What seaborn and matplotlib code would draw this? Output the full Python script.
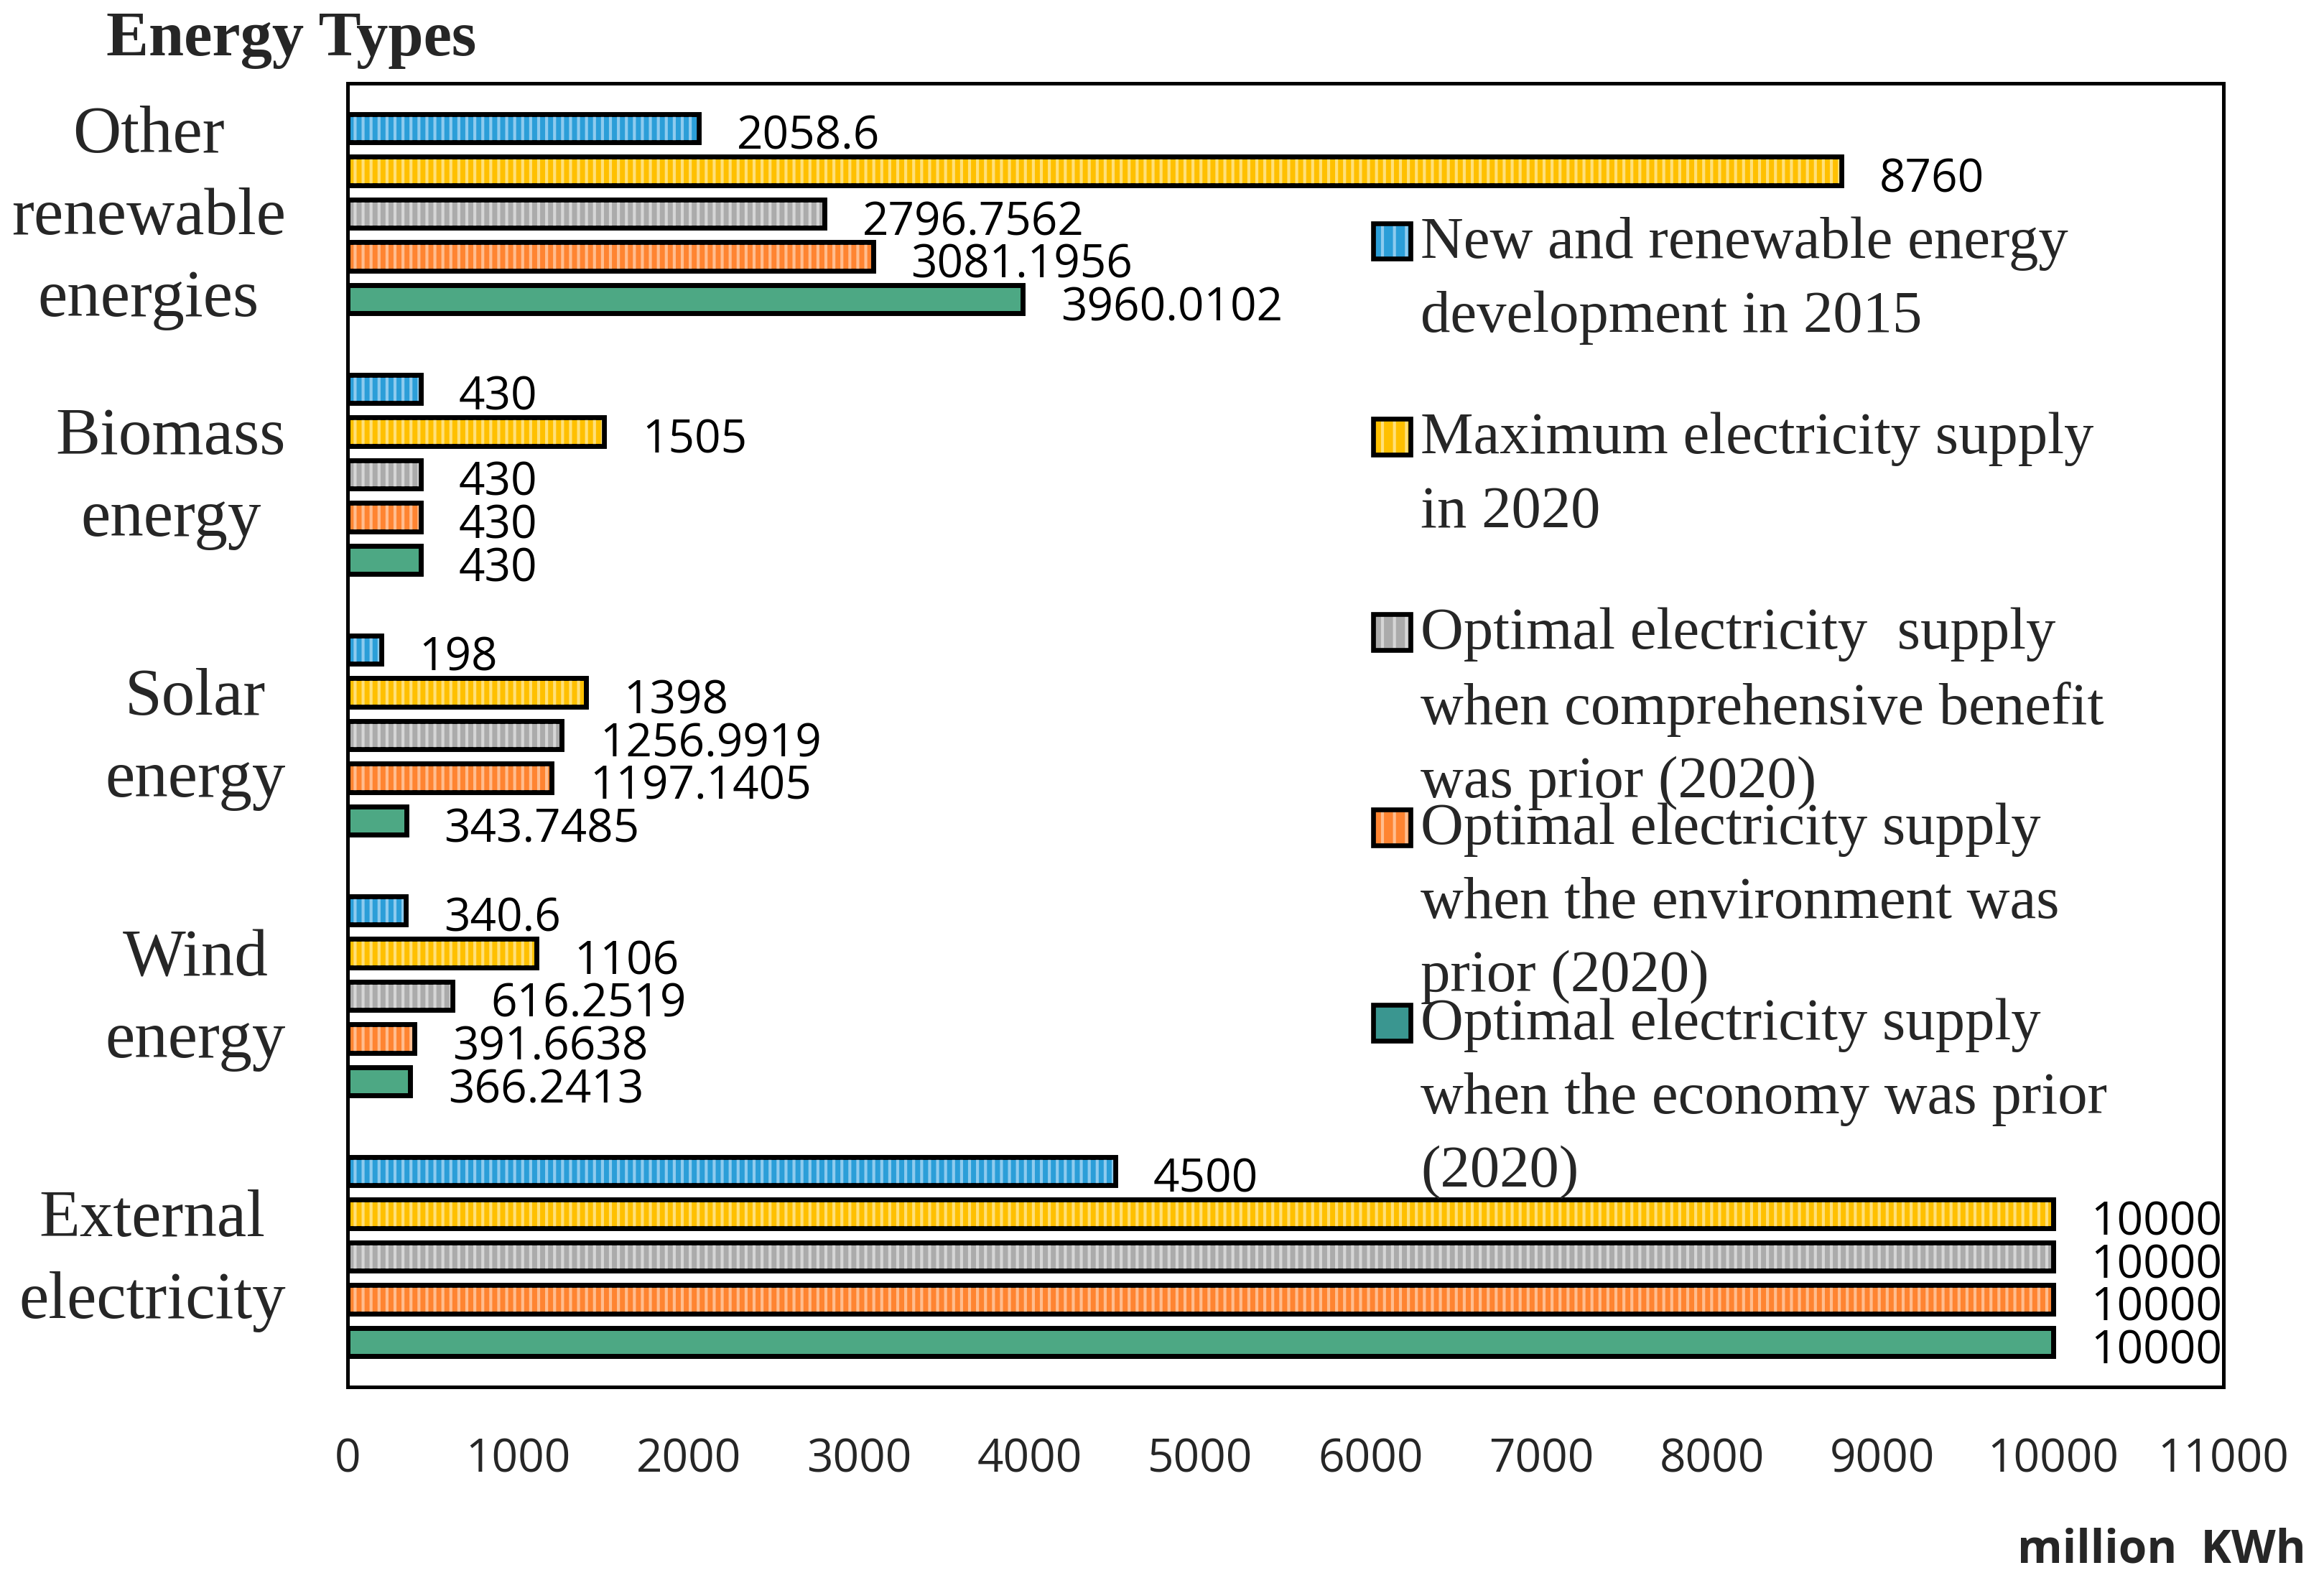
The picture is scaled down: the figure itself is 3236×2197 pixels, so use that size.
import matplotlib
matplotlib.use('Agg')
import pandas as pd
import matplotlib.pyplot as plt
from matplotlib.patches import Rectangle
from matplotlib.transforms import ScaledTranslation
import seaborn as sns

# Chart data
categories = ['Other\nrenewable\nenergies', 'Biomass\nenergy', 'Solar\nenergy',
              'Wind\nenergy', 'External\nelectricity']
series_labels = [
    'New and renewable energy\ndevelopment in 2015',
    'Maximum electricity supply\nin 2020',
    'Optimal electricity  supply\nwhen comprehensive benefit\nwas prior (2020)',
    'Optimal electricity supply\nwhen the environment was\nprior (2020)',
    'Optimal electricity supply\nwhen the economy was prior\n(2020)',
]
dev_2015 = [2058.6, 430, 198, 340.6, 4500]
max_2020 = [8760, 1505, 1398, 1106, 10000]
opt_benefit = [2796.7562, 430, 1256.9919, 616.2519, 10000]
opt_environment = [3081.1956, 430, 1197.1405, 391.6638, 10000]
opt_economy = [3960.0102, 430, 343.7485, 366.2413, 10000]
x_ticks = list(range(0, 11001, 1000))

series_values = [dev_2015, max_2020, opt_benefit, opt_environment, opt_economy]

# Colours: bar face, light stripe, legend swatch
bar_colors = ['#2B9ED8', '#FFC000', '#ABABAB', '#FF8431', '#4DA884']
stripe_colors = ['#8ECBEE', '#FFE07A', '#D6D6D6', '#FFBD8F', None]
swatch_colors = ['#2B9ED8', '#FFC000', '#ABABAB', '#FF8431', '#3A9690']

# long-form table for seaborn
rows = []
for label, vals in zip(series_labels, series_values):
    for cat, v in zip(categories, vals):
        rows.append({'category': cat, 'value': v, 'series': label})
df = pd.DataFrame(rows)

sns.set_theme(style='white')
plt.rcParams['font.family'] = ['Liberation Serif', 'DejaVu Serif']
plt.rcParams['hatch.linewidth'] = 1.5

fig = plt.figure(figsize=(16.18, 10.985), dpi=200)
ax = fig.add_axes([484 / 3236, 1 - 1931 / 2197, (3096 - 484) / 3236, (1931 - 116) / 2197])

sns.barplot(data=df, x='value', y='category', hue='series', order=categories,
            hue_order=series_labels, palette=bar_colors, orient='h', width=0.82,
            gap=0.34, saturation=1, edgecolor='black', linewidth=2.4,
            errorbar=None, legend=False, ax=ax)

edge_lw = 2.4
# vertical stripes on the bars, then redraw the black outline on top
for cont, stripe in zip(ax.containers, stripe_colors):
    for bar in cont:
        xy, w, h = bar.get_xy(), bar.get_width(), bar.get_height()
        if stripe:
            ax.add_patch(Rectangle(xy, w, h, facecolor='none', edgecolor=stripe,
                                   lw=0, hatch='|||', zorder=1.1))
        ax.add_patch(Rectangle(xy, w, h, facecolor='none', edgecolor='black',
                               lw=edge_lw, zorder=1.2))
    anns = ax.bar_label(cont, fmt=lambda v: f'{v:.10g}', padding=19, fontsize=23,
                        family='Open Sans', color='black')
    for a in anns:
        a.xyann = (19, -4.5)

ax.set_xlim(0, 11000)
ax.set_xticks(x_ticks)
ax.set_xlabel('')
ax.set_ylabel('')
ax.tick_params(axis='x', length=0, pad=25, labelsize=23)
ax.tick_params(axis='y', length=0, pad=31, labelsize=33.5)
for lbl in ax.get_xticklabels():
    lbl.set_family('Open Sans')
shift_down = ScaledTranslation(0, -6 / 200, fig.dpi_scale_trans)
for lbl in ax.get_yticklabels():
    lbl.set_family('Liberation Serif')
    lbl.set_multialignment('center')
    lbl.set_linespacing(1.44)
    lbl.set_verticalalignment('center')
    lbl.set_transform(lbl.get_transform() + shift_down)

for sp in ax.spines.values():
    sp.set_visible(True)
    sp.set_color('black')
    sp.set_linewidth(1.8)

# legend drawn by hand so the swatch sits on the first line of each entry
for i, (label, col, stripe) in enumerate(zip(series_labels, swatch_colors, stripe_colors)):
    base = 0.8683 - 0.1499 * i
    ax.add_patch(Rectangle((0.5467, base - 0.003), 0.0199, 0.0275, transform=ax.transAxes,
                           facecolor=col, edgecolor='none', clip_on=False, zorder=3))
    if stripe:
        ax.add_patch(Rectangle((0.5467, base - 0.003), 0.0199, 0.0275, transform=ax.transAxes,
                               facecolor='none', edgecolor=stripe, lw=0, hatch='||',
                               clip_on=False, zorder=3.1))
    ax.add_patch(Rectangle((0.5467, base - 0.003), 0.0199, 0.0275, transform=ax.transAxes,
                           facecolor='none', edgecolor='black', lw=edge_lw,
                           clip_on=False, zorder=3.2))
    ax.text(0.572, base + 0.0295, label, transform=ax.transAxes, ha='left', va='top',
            fontsize=29.8, family='Liberation Serif', linespacing=1.47, zorder=4)

fig.text(148 / 3236, 1 - 77 / 2197, 'Energy Types', ha='left', va='baseline',
         fontsize=31.8, fontweight='bold', family='Liberation Serif')
fig.text(3211 / 3236, 1 - 2175 / 2197, 'million  KWh', ha='right', va='baseline',
         fontsize=23, fontweight='bold', family='Open Sans')

fig.savefig('out.png', dpi=200)
